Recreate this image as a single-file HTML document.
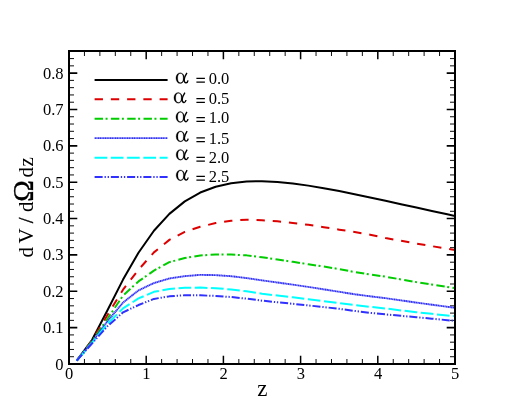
<!DOCTYPE html>
<html><head><meta charset="utf-8"><title>chart</title>
<style>
html,body{margin:0;padding:0;background:#fff;}
body{width:518px;height:411px;position:relative;overflow:hidden;font-family:"Liberation Serif",serif;}
svg text{font-family:"Liberation Serif",serif;fill:#000;}
.tk{font-size:16.5px;}
.lt{font-size:16.5px;}
.al{font-size:23px;}
.zl{font-size:23px;}
.yl{font-size:20.5px;}
.om{font-size:28px;}
</style></head><body>
<svg width="518" height="411" viewBox="0 0 518 411" style="position:absolute;left:0;top:0;will-change:transform">
<path d="M69.00,364.0 v-8.3 M69.00,51.0 v8.3" stroke="#000" stroke-width="1.5" fill="none"/>
<path d="M84.44,364.0 v-5.0 M84.44,51.0 v5.0" stroke="#000" stroke-width="0.95" fill="none"/>
<path d="M99.88,364.0 v-5.0 M99.88,51.0 v5.0" stroke="#000" stroke-width="0.95" fill="none"/>
<path d="M115.32,364.0 v-5.0 M115.32,51.0 v5.0" stroke="#000" stroke-width="0.95" fill="none"/>
<path d="M130.76,364.0 v-5.0 M130.76,51.0 v5.0" stroke="#000" stroke-width="0.95" fill="none"/>
<path d="M146.20,364.0 v-8.3 M146.20,51.0 v8.3" stroke="#000" stroke-width="1.5" fill="none"/>
<path d="M161.64,364.0 v-5.0 M161.64,51.0 v5.0" stroke="#000" stroke-width="0.95" fill="none"/>
<path d="M177.08,364.0 v-5.0 M177.08,51.0 v5.0" stroke="#000" stroke-width="0.95" fill="none"/>
<path d="M192.52,364.0 v-5.0 M192.52,51.0 v5.0" stroke="#000" stroke-width="0.95" fill="none"/>
<path d="M207.96,364.0 v-5.0 M207.96,51.0 v5.0" stroke="#000" stroke-width="0.95" fill="none"/>
<path d="M223.40,364.0 v-8.3 M223.40,51.0 v8.3" stroke="#000" stroke-width="1.5" fill="none"/>
<path d="M238.84,364.0 v-5.0 M238.84,51.0 v5.0" stroke="#000" stroke-width="0.95" fill="none"/>
<path d="M254.28,364.0 v-5.0 M254.28,51.0 v5.0" stroke="#000" stroke-width="0.95" fill="none"/>
<path d="M269.72,364.0 v-5.0 M269.72,51.0 v5.0" stroke="#000" stroke-width="0.95" fill="none"/>
<path d="M285.16,364.0 v-5.0 M285.16,51.0 v5.0" stroke="#000" stroke-width="0.95" fill="none"/>
<path d="M300.60,364.0 v-8.3 M300.60,51.0 v8.3" stroke="#000" stroke-width="1.5" fill="none"/>
<path d="M316.04,364.0 v-5.0 M316.04,51.0 v5.0" stroke="#000" stroke-width="0.95" fill="none"/>
<path d="M331.48,364.0 v-5.0 M331.48,51.0 v5.0" stroke="#000" stroke-width="0.95" fill="none"/>
<path d="M346.92,364.0 v-5.0 M346.92,51.0 v5.0" stroke="#000" stroke-width="0.95" fill="none"/>
<path d="M362.36,364.0 v-5.0 M362.36,51.0 v5.0" stroke="#000" stroke-width="0.95" fill="none"/>
<path d="M377.80,364.0 v-8.3 M377.80,51.0 v8.3" stroke="#000" stroke-width="1.5" fill="none"/>
<path d="M393.24,364.0 v-5.0 M393.24,51.0 v5.0" stroke="#000" stroke-width="0.95" fill="none"/>
<path d="M408.68,364.0 v-5.0 M408.68,51.0 v5.0" stroke="#000" stroke-width="0.95" fill="none"/>
<path d="M424.12,364.0 v-5.0 M424.12,51.0 v5.0" stroke="#000" stroke-width="0.95" fill="none"/>
<path d="M439.56,364.0 v-5.0 M439.56,51.0 v5.0" stroke="#000" stroke-width="0.95" fill="none"/>
<path d="M455.00,364.0 v-8.3 M455.00,51.0 v8.3" stroke="#000" stroke-width="1.5" fill="none"/>
<path d="M69.0,364.00 h8.3 M455.0,364.00 h-8.3" stroke="#000" stroke-width="1.6" fill="none"/>
<path d="M69.0,356.73 h5.0 M455.0,356.73 h-5.0" stroke="#000" stroke-width="0.95" fill="none"/>
<path d="M69.0,349.46 h5.0 M455.0,349.46 h-5.0" stroke="#000" stroke-width="0.95" fill="none"/>
<path d="M69.0,342.18 h5.0 M455.0,342.18 h-5.0" stroke="#000" stroke-width="0.95" fill="none"/>
<path d="M69.0,334.91 h5.0 M455.0,334.91 h-5.0" stroke="#000" stroke-width="0.95" fill="none"/>
<path d="M69.0,327.64 h8.3 M455.0,327.64 h-8.3" stroke="#000" stroke-width="1.6" fill="none"/>
<path d="M69.0,320.37 h5.0 M455.0,320.37 h-5.0" stroke="#000" stroke-width="0.95" fill="none"/>
<path d="M69.0,313.10 h5.0 M455.0,313.10 h-5.0" stroke="#000" stroke-width="0.95" fill="none"/>
<path d="M69.0,305.82 h5.0 M455.0,305.82 h-5.0" stroke="#000" stroke-width="0.95" fill="none"/>
<path d="M69.0,298.55 h5.0 M455.0,298.55 h-5.0" stroke="#000" stroke-width="0.95" fill="none"/>
<path d="M69.0,291.28 h8.3 M455.0,291.28 h-8.3" stroke="#000" stroke-width="1.6" fill="none"/>
<path d="M69.0,284.01 h5.0 M455.0,284.01 h-5.0" stroke="#000" stroke-width="0.95" fill="none"/>
<path d="M69.0,276.74 h5.0 M455.0,276.74 h-5.0" stroke="#000" stroke-width="0.95" fill="none"/>
<path d="M69.0,269.46 h5.0 M455.0,269.46 h-5.0" stroke="#000" stroke-width="0.95" fill="none"/>
<path d="M69.0,262.19 h5.0 M455.0,262.19 h-5.0" stroke="#000" stroke-width="0.95" fill="none"/>
<path d="M69.0,254.92 h8.3 M455.0,254.92 h-8.3" stroke="#000" stroke-width="1.6" fill="none"/>
<path d="M69.0,247.65 h5.0 M455.0,247.65 h-5.0" stroke="#000" stroke-width="0.95" fill="none"/>
<path d="M69.0,240.38 h5.0 M455.0,240.38 h-5.0" stroke="#000" stroke-width="0.95" fill="none"/>
<path d="M69.0,233.10 h5.0 M455.0,233.10 h-5.0" stroke="#000" stroke-width="0.95" fill="none"/>
<path d="M69.0,225.83 h5.0 M455.0,225.83 h-5.0" stroke="#000" stroke-width="0.95" fill="none"/>
<path d="M69.0,218.56 h8.3 M455.0,218.56 h-8.3" stroke="#000" stroke-width="1.6" fill="none"/>
<path d="M69.0,211.29 h5.0 M455.0,211.29 h-5.0" stroke="#000" stroke-width="0.95" fill="none"/>
<path d="M69.0,204.02 h5.0 M455.0,204.02 h-5.0" stroke="#000" stroke-width="0.95" fill="none"/>
<path d="M69.0,196.74 h5.0 M455.0,196.74 h-5.0" stroke="#000" stroke-width="0.95" fill="none"/>
<path d="M69.0,189.47 h5.0 M455.0,189.47 h-5.0" stroke="#000" stroke-width="0.95" fill="none"/>
<path d="M69.0,182.20 h8.3 M455.0,182.20 h-8.3" stroke="#000" stroke-width="1.6" fill="none"/>
<path d="M69.0,174.93 h5.0 M455.0,174.93 h-5.0" stroke="#000" stroke-width="0.95" fill="none"/>
<path d="M69.0,167.66 h5.0 M455.0,167.66 h-5.0" stroke="#000" stroke-width="0.95" fill="none"/>
<path d="M69.0,160.38 h5.0 M455.0,160.38 h-5.0" stroke="#000" stroke-width="0.95" fill="none"/>
<path d="M69.0,153.11 h5.0 M455.0,153.11 h-5.0" stroke="#000" stroke-width="0.95" fill="none"/>
<path d="M69.0,145.84 h8.3 M455.0,145.84 h-8.3" stroke="#000" stroke-width="1.6" fill="none"/>
<path d="M69.0,138.57 h5.0 M455.0,138.57 h-5.0" stroke="#000" stroke-width="0.95" fill="none"/>
<path d="M69.0,131.30 h5.0 M455.0,131.30 h-5.0" stroke="#000" stroke-width="0.95" fill="none"/>
<path d="M69.0,124.02 h5.0 M455.0,124.02 h-5.0" stroke="#000" stroke-width="0.95" fill="none"/>
<path d="M69.0,116.75 h5.0 M455.0,116.75 h-5.0" stroke="#000" stroke-width="0.95" fill="none"/>
<path d="M69.0,109.48 h8.3 M455.0,109.48 h-8.3" stroke="#000" stroke-width="1.6" fill="none"/>
<path d="M69.0,102.21 h5.0 M455.0,102.21 h-5.0" stroke="#000" stroke-width="0.95" fill="none"/>
<path d="M69.0,94.94 h5.0 M455.0,94.94 h-5.0" stroke="#000" stroke-width="0.95" fill="none"/>
<path d="M69.0,87.66 h5.0 M455.0,87.66 h-5.0" stroke="#000" stroke-width="0.95" fill="none"/>
<path d="M69.0,80.39 h5.0 M455.0,80.39 h-5.0" stroke="#000" stroke-width="0.95" fill="none"/>
<path d="M69.0,73.12 h8.3 M455.0,73.12 h-8.3" stroke="#000" stroke-width="1.6" fill="none"/>
<path d="M69.0,65.85 h5.0 M455.0,65.85 h-5.0" stroke="#000" stroke-width="0.95" fill="none"/>
<path d="M69.0,58.58 h5.0 M455.0,58.58 h-5.0" stroke="#000" stroke-width="0.95" fill="none"/>
<path d="M69.0,51.30 h5.0 M455.0,51.30 h-5.0" stroke="#000" stroke-width="0.95" fill="none"/>
<clipPath id="c"><rect x="69.0" y="51.0" width="386.0" height="313.0"/></clipPath>
<g clip-path="url(#c)" fill="none" stroke-linejoin="round">
<path d="M76.72,360.69 L92.16,339.74 L107.60,309.97 L123.04,279.59 L138.48,252.71 L153.92,230.79 L169.36,213.86 L184.80,201.36 L200.24,192.55 L215.68,186.71 L231.12,183.21 L246.56,181.51 L262.00,181.20 L277.44,181.95 L292.88,183.49 L308.32,185.63 L323.76,188.20 L339.20,191.08 L354.64,194.19 L370.08,197.44 L385.52,200.77 L400.96,204.15 L416.40,207.55 L431.84,210.92 L447.28,214.27 L455.00,215.92" stroke="#000000" stroke-width="2.0"/>
<path d="M76.72,360.65 L92.16,340.37 L107.60,314.70 L123.04,289.68 L138.48,269.71 L153.92,252.40 L169.36,239.85 L184.80,231.83 L200.24,226.75 L215.68,223.07 L231.12,220.81 L246.56,219.65 L262.00,220.20 L277.44,221.31 L292.88,222.94 L308.32,224.82 L323.76,227.18 L339.20,229.65 L354.64,231.97 L370.08,234.76 L385.52,237.98 L400.96,240.82 L416.40,243.53 L431.84,246.16 L447.28,248.78 L455.00,250.12" stroke="#dd0000" stroke-width="2.0" stroke-dasharray="8.35 7.9"/>
<path d="M76.72,360.65 L92.16,341.09 L107.60,318.55 L123.04,295.64 L138.48,281.40 L153.92,270.60 L169.36,262.12 L184.80,258.08 L200.24,255.42 L215.68,254.60 L231.12,254.61 L246.56,255.37 L262.00,257.28 L277.44,259.46 L292.88,261.86 L308.32,264.24 L323.76,266.59 L339.20,269.10 L354.64,272.10 L370.08,274.50 L385.52,276.71 L400.96,279.42 L416.40,282.12 L431.84,284.56 L447.28,286.93 L455.00,288.12" stroke="#00cc00" stroke-width="2.0" stroke-dasharray="8.45 2.5 2.0 3.35"/>
<path d="M76.72,360.65 L92.16,341.82 L107.60,321.10 L123.04,302.55 L138.48,290.42 L153.92,283.04 L169.36,278.48 L184.80,276.15 L200.24,274.86 L215.68,275.13 L231.12,276.22 L246.56,278.07 L262.00,280.37 L277.44,282.51 L292.88,284.64 L308.32,286.92 L323.76,289.34 L339.20,291.79 L354.64,294.27 L370.08,296.29 L385.52,298.18 L400.96,300.38 L416.40,302.59 L431.84,304.69 L447.28,306.76 L455.00,307.79" stroke="#3030ff" stroke-width="1.9" stroke-dasharray="1.35 0.35"/>
<path d="M76.72,360.65 L92.16,342.55 L107.60,323.64 L123.04,308.37 L138.48,298.44 L153.92,291.85 L169.36,288.92 L184.80,287.79 L200.24,287.62 L215.68,288.17 L231.12,289.50 L246.56,291.33 L262.00,293.72 L277.44,295.58 L292.88,297.28 L308.32,299.16 L323.76,301.20 L339.20,303.21 L354.64,305.11 L370.08,306.81 L385.52,308.49 L400.96,310.39 L416.40,312.22 L431.84,313.86 L447.28,315.43 L455.00,316.22" stroke="#00ffff" stroke-width="2.0" stroke-dasharray="12.65 3.6"/>
<path d="M76.72,360.65 L92.16,343.27 L107.60,326.11 L123.04,312.37 L138.48,305.05 L153.92,298.93 L169.36,296.37 L184.80,295.24 L200.24,295.37 L215.68,295.93 L231.12,297.06 L246.56,298.67 L262.00,300.66 L277.44,302.30 L292.88,303.83 L308.32,305.44 L323.76,307.08 L339.20,308.84 L354.64,310.93 L370.08,312.82 L385.52,314.41 L400.96,315.83 L416.40,317.24 L431.84,318.69 L447.28,320.15 L455.00,320.88" stroke="#3030ff" stroke-width="2.0" stroke-dasharray="8.05 1.9 1.3 1.8 1.3 1.9"/>
</g>
<rect x="69.0" y="51.0" width="386.0" height="313.0" fill="none" stroke="#000" stroke-width="2"/>
<path d="M94.6,79.9 H167.6" stroke="#000000" stroke-width="2.0" fill="none"/>
<g transform="translate(176.0,83.4)"><path fill="#000" stroke="#000" stroke-width="0.25" fill-rule="evenodd" d="M-0.1,-5.3 a4.3,5.4 0 1,0 8.6,0 a4.3,5.4 0 1,0 -8.6,0 Z M1.7,-5.3 a2.75,4.65 0 1,0 5.5,0 a2.75,4.65 0 1,0 -5.5,0 Z"/><path fill="none" stroke="#000" stroke-width="1.4" stroke-linecap="butt" d="M10.9,-10.5 C9.6,-8.4 8.4,-6.4 8.2,-3.9 C8.1,-1.6 9.0,-0.5 10.1,-0.6 C11.1,-0.7 11.8,-1.9 12.0,-3.1"/></g>
<path d="M196.4,78.45 h8.5 M196.4,82.15 h8.5" stroke="#000" stroke-width="1.25" fill="none"/>
<text class="lt" x="208.7" y="84.2">0.0</text>
<path d="M94.6,99.35 H167.6" stroke="#dd0000" stroke-width="2.0" fill="none" stroke-dasharray="8.35 7.9"/>
<g transform="translate(174.0,103.1)"><path fill="#000" stroke="#000" stroke-width="0.25" fill-rule="evenodd" d="M-0.1,-5.3 a4.3,5.4 0 1,0 8.6,0 a4.3,5.4 0 1,0 -8.6,0 Z M1.7,-5.3 a2.75,4.65 0 1,0 5.5,0 a2.75,4.65 0 1,0 -5.5,0 Z"/><path fill="none" stroke="#000" stroke-width="1.4" stroke-linecap="butt" d="M10.9,-10.5 C9.6,-8.4 8.4,-6.4 8.2,-3.9 C8.1,-1.6 9.0,-0.5 10.1,-0.6 C11.1,-0.7 11.8,-1.9 12.0,-3.1"/></g>
<path d="M196.4,98.55 h8.5 M196.4,102.25 h8.5" stroke="#000" stroke-width="1.25" fill="none"/>
<text class="lt" x="208.7" y="104.3">0.5</text>
<path d="M94.6,118.8 H167.6" stroke="#00cc00" stroke-width="2.0" fill="none" stroke-dasharray="8.45 2.5 2.0 3.35"/>
<g transform="translate(176.0,122.3)"><path fill="#000" stroke="#000" stroke-width="0.25" fill-rule="evenodd" d="M-0.1,-5.3 a4.3,5.4 0 1,0 8.6,0 a4.3,5.4 0 1,0 -8.6,0 Z M1.7,-5.3 a2.75,4.65 0 1,0 5.5,0 a2.75,4.65 0 1,0 -5.5,0 Z"/><path fill="none" stroke="#000" stroke-width="1.4" stroke-linecap="butt" d="M10.9,-10.5 C9.6,-8.4 8.4,-6.4 8.2,-3.9 C8.1,-1.6 9.0,-0.5 10.1,-0.6 C11.1,-0.7 11.8,-1.9 12.0,-3.1"/></g>
<path d="M196.4,117.55 h8.5 M196.4,121.25 h8.5" stroke="#000" stroke-width="1.25" fill="none"/>
<text class="lt" x="208.7" y="123.3">1.0</text>
<path d="M94.6,138.1 H167.6" stroke="#3030ff" stroke-width="1.9" fill="none" stroke-dasharray="1.35 0.35"/>
<g transform="translate(176.2,141.7)"><path fill="#000" stroke="#000" stroke-width="0.25" fill-rule="evenodd" d="M-0.1,-5.3 a4.3,5.4 0 1,0 8.6,0 a4.3,5.4 0 1,0 -8.6,0 Z M1.7,-5.3 a2.75,4.65 0 1,0 5.5,0 a2.75,4.65 0 1,0 -5.5,0 Z"/><path fill="none" stroke="#000" stroke-width="1.4" stroke-linecap="butt" d="M10.9,-10.5 C9.6,-8.4 8.4,-6.4 8.2,-3.9 C8.1,-1.6 9.0,-0.5 10.1,-0.6 C11.1,-0.7 11.8,-1.9 12.0,-3.1"/></g>
<path d="M196.4,137.85 h8.5 M196.4,141.55 h8.5" stroke="#000" stroke-width="1.25" fill="none"/>
<text class="lt" x="208.7" y="143.6">1.5</text>
<path d="M94.6,157.75 H167.6" stroke="#00ffff" stroke-width="2.0" fill="none" stroke-dasharray="12.65 3.6"/>
<g transform="translate(176.2,160.1)"><path fill="#000" stroke="#000" stroke-width="0.25" fill-rule="evenodd" d="M-0.1,-5.3 a4.3,5.4 0 1,0 8.6,0 a4.3,5.4 0 1,0 -8.6,0 Z M1.7,-5.3 a2.75,4.65 0 1,0 5.5,0 a2.75,4.65 0 1,0 -5.5,0 Z"/><path fill="none" stroke="#000" stroke-width="1.4" stroke-linecap="butt" d="M10.9,-10.5 C9.6,-8.4 8.4,-6.4 8.2,-3.9 C8.1,-1.6 9.0,-0.5 10.1,-0.6 C11.1,-0.7 11.8,-1.9 12.0,-3.1"/></g>
<path d="M196.4,157.35 h8.5 M196.4,161.05 h8.5" stroke="#000" stroke-width="1.25" fill="none"/>
<text class="lt" x="208.7" y="163.1">2.0</text>
<path d="M94.6,177.05 H167.6" stroke="#3030ff" stroke-width="2.0" fill="none" stroke-dasharray="8.05 1.9 1.3 1.8 1.3 1.9"/>
<g transform="translate(176.2,180.6)"><path fill="#000" stroke="#000" stroke-width="0.25" fill-rule="evenodd" d="M-0.1,-5.3 a4.3,5.4 0 1,0 8.6,0 a4.3,5.4 0 1,0 -8.6,0 Z M1.7,-5.3 a2.75,4.65 0 1,0 5.5,0 a2.75,4.65 0 1,0 -5.5,0 Z"/><path fill="none" stroke="#000" stroke-width="1.4" stroke-linecap="butt" d="M10.9,-10.5 C9.6,-8.4 8.4,-6.4 8.2,-3.9 C8.1,-1.6 9.0,-0.5 10.1,-0.6 C11.1,-0.7 11.8,-1.9 12.0,-3.1"/></g>
<path d="M196.4,176.35 h8.5 M196.4,180.05 h8.5" stroke="#000" stroke-width="1.25" fill="none"/>
<text class="lt" x="208.7" y="182.1">2.5</text>
<text class="tk" text-anchor="end" x="63.6" y="369.50">0</text>
<text class="tk" text-anchor="end" x="63.6" y="333.14">0.1</text>
<text class="tk" text-anchor="end" x="63.6" y="296.78">0.2</text>
<text class="tk" text-anchor="end" x="63.6" y="260.42">0.3</text>
<text class="tk" text-anchor="end" x="63.6" y="224.06">0.4</text>
<text class="tk" text-anchor="end" x="63.6" y="187.70">0.5</text>
<text class="tk" text-anchor="end" x="63.6" y="151.34">0.6</text>
<text class="tk" text-anchor="end" x="63.6" y="114.98">0.7</text>
<text class="tk" text-anchor="end" x="63.6" y="78.62">0.8</text>
<text class="tk" text-anchor="middle" x="69.20" y="379">0</text>
<text class="tk" text-anchor="middle" x="146.40" y="379">1</text>
<text class="tk" text-anchor="middle" x="223.60" y="379">2</text>
<text class="tk" text-anchor="middle" x="300.80" y="379">3</text>
<text class="tk" text-anchor="middle" x="378.00" y="379">4</text>
<text class="tk" text-anchor="middle" x="455.20" y="379">5</text>
<text class="zl" text-anchor="middle" x="262.4" y="396.3">z</text>
<g transform="translate(33,257) rotate(-90)"><text x="-0.4" y="0" style="font-size:21px">d</text><text x="13.6" y="0" style="font-size:21px">V</text><text x="33.8" y="0" style="font-size:21px;stroke:#000;stroke-width:0.35">/</text><text x="45.0" y="0" style="font-size:21px">d</text><text x="55.3" y="0" style="font-size:29px;stroke:#000;stroke-width:0.3">Ω</text><text x="79.4" y="0" style="font-size:21px">d</text><text x="90.6" y="0" style="font-size:21px">z</text></g>
</svg>
</body></html>
